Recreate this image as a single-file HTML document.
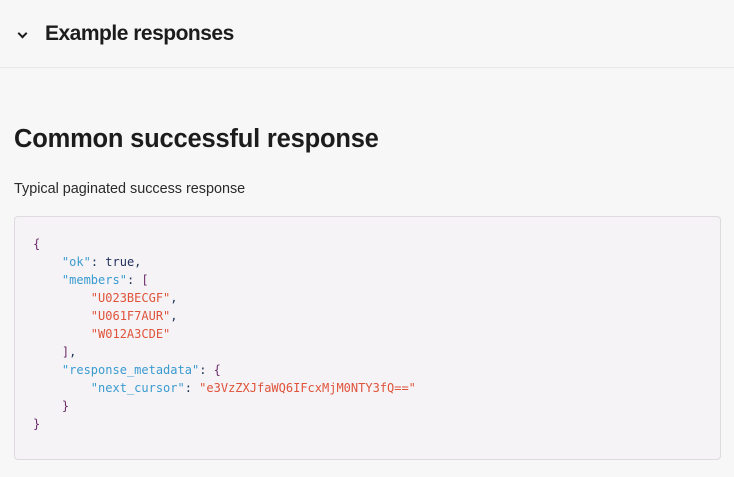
<!DOCTYPE html>
<html><head><style>
html,body{margin:0;padding:0;width:734px;height:477px;overflow:hidden;background:#f7f7f7;font-family:"Liberation Sans",sans-serif;color:#1d1c1d;}
.hdr{position:absolute;left:0;top:0;width:734px;height:67px;border-bottom:1px solid #e8e8e8;}
.chev{position:absolute;left:19px;top:30px;width:5px;height:5px;border-right:2px solid #1d1c1d;border-bottom:2px solid #1d1c1d;transform:rotate(45deg);}
.ht{position:absolute;left:45px;top:22px;font-size:21px;font-weight:bold;letter-spacing:-0.5px;white-space:nowrap;}
.t{position:absolute;left:14px;top:125px;font-size:25.5px;font-weight:bold;letter-spacing:-0.2px;white-space:nowrap;}
.s{position:absolute;left:14px;top:181px;font-size:14.4px;white-space:nowrap;color:#2a2a2a;}
.code{position:absolute;left:14px;top:216px;width:705px;height:242px;background:#f5f3f6;border:1px solid #dedadf;border-radius:4px;}
pre{margin:0;position:absolute;left:18px;top:18px;font-family:"DejaVu Sans Mono","Liberation Mono",monospace;font-size:12px;line-height:18px;color:#1d3557;}
.p{color:#6b2c6b}.k{color:#3a9bd0}.v{color:#e0533a}.b{color:#1f2f5a}
</style></head><body>
<div class="hdr"><div class="chev"></div><div class="ht">Example responses</div></div>
<div class="t">Common successful response</div>
<div class="s">Typical paginated success response</div>
<div class="code"><pre><span class="p">{</span>
    <span class="k">"ok"</span>: <span class="b">true</span>,
    <span class="k">"members"</span>: <span class="p">[</span>
        <span class="v">"U023BECGF"</span>,
        <span class="v">"U061F7AUR"</span>,
        <span class="v">"W012A3CDE"</span>
    <span class="p">]</span>,
    <span class="k">"response_metadata"</span>: <span class="p">{</span>
        <span class="k">"next_cursor"</span>: <span class="v">"e3VzZXJfaWQ6IFcxMjM0NTY3fQ=="</span>
    <span class="p">}</span>
<span class="p">}</span></pre></div>
</body></html>
